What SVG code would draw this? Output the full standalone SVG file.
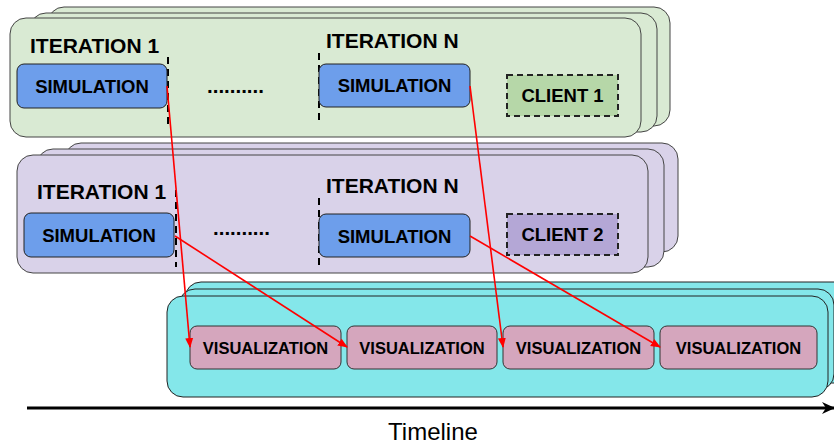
<svg xmlns="http://www.w3.org/2000/svg" width="834" height="444" viewBox="0 0 834 444">
<style>
text{font-family:"Liberation Sans",Arial,sans-serif;font-weight:bold;fill:#000}
.g{fill:#d9ead3;stroke:#444;stroke-width:1}
.p{fill:#d9d2e9;stroke:#444;stroke-width:1}
.c{fill:#84e7ea;stroke:#222;stroke-width:1}
.sim{fill:#6d9eeb;stroke:#222;stroke-width:1}
.viz{fill:#d5a6bd;stroke:#333;stroke-width:1}
.cl{stroke:#222;stroke-width:2;stroke-dasharray:6,4}
.dv{stroke:#000;stroke-width:2;stroke-dasharray:7,5;fill:none}
.it{font-size:21px}
.st{font-size:18.5px;text-anchor:middle}
.vt{font-size:16.5px;text-anchor:middle}
.dots{font-size:20.5px}
.red{stroke:#ff0000;stroke-width:1.6;fill:none;marker-end:url(#ah)}
</style>
<defs>
<marker id="ah" markerWidth="10" markerHeight="10" refX="9" refY="5" orient="auto" markerUnits="userSpaceOnUse">
<path d="M0,1 L10,5 L0,9 Z" fill="#ff0000"/>
</marker>
<marker id="tah" markerWidth="14" markerHeight="14" refX="12" refY="7" orient="auto" markerUnits="userSpaceOnUse">
<path d="M0,1 L13,7 L0,13 L4,7 Z" fill="#000"/>
</marker>
</defs>

<g id="client1-stack">
<rect class="g" x="48" y="7" width="622" height="119" rx="16"/>
<rect class="g" x="30" y="13" width="627" height="119" rx="16"/>
<rect class="g" x="10" y="18" width="631" height="119" rx="16"/>
<text class="it" x="30" y="53">ITERATION 1</text>
<text class="it" x="326" y="48">ITERATION N</text>
<text class="dots" x="207" y="93">..........</text>
<line class="dv" x1="168" y1="57" x2="168" y2="128"/>
<line class="dv" x1="319" y1="53" x2="319" y2="123"/>
</g>
<g id="sim1a"><rect class="sim" x="17" y="64" width="150" height="44" rx="7"/><text class="st" x="92" y="93">SIMULATION</text></g>
<g id="sim1n"><rect class="sim" x="319" y="64" width="151" height="43" rx="7"/><text class="st" x="394.5" y="92">SIMULATION</text></g>
<g id="client1"><rect class="cl" x="507" y="75" width="111" height="41" fill="#b6d7a8"/><text class="st" x="562.5" y="102">CLIENT 1</text></g>

<g id="client2-stack">
<rect class="p" x="65" y="143" width="613" height="109" rx="16"/>
<rect class="p" x="37" y="149" width="627" height="118" rx="16"/>
<rect class="p" x="17" y="155" width="631" height="118" rx="16"/>
<text class="it" x="37" y="199">ITERATION 1</text>
<text class="it" x="326" y="193">ITERATION N</text>
<text class="dots" x="213" y="235">..........</text>
<line class="dv" x1="176" y1="190" x2="176" y2="267"/>
<line class="dv" x1="319" y1="198" x2="319" y2="267"/>
</g>
<g id="sim2a"><rect class="sim" x="24" y="213" width="150" height="44" rx="7"/><text class="st" x="99" y="242">SIMULATION</text></g>
<g id="sim2n"><rect class="sim" x="319" y="214" width="151" height="43" rx="7"/><text class="st" x="394.5" y="243">SIMULATION</text></g>
<g id="client2"><rect class="cl" x="507" y="214" width="111" height="41" fill="#b4a7d6"/><text class="st" x="562.5" y="241">CLIENT 2</text></g>

<g id="viz-stack">
<rect class="c" x="185" y="282" width="670" height="101" rx="16"/>
<rect class="c" x="179" y="289" width="655" height="101" rx="16"/>
<rect class="c" x="167" y="296" width="661" height="101" rx="16"/>
</g>
<g id="viz1"><rect class="viz" x="190" y="326" width="151" height="43" rx="7"/><text class="vt" x="265.5" y="354">VISUALIZATION</text></g>
<g id="viz2"><rect class="viz" x="347" y="326" width="150" height="43" rx="7"/><text class="vt" x="422" y="354">VISUALIZATION</text></g>
<g id="viz3"><rect class="viz" x="503" y="326" width="151" height="43" rx="7"/><text class="vt" x="578.5" y="354">VISUALIZATION</text></g>
<g id="viz4"><rect class="viz" x="660" y="326" width="157" height="43" rx="7"/><text class="vt" x="738.5" y="354">VISUALIZATION</text></g>

<g id="connectors">
<line class="red" x1="167" y1="86" x2="190" y2="347"/>
<line class="red" x1="175" y1="236" x2="347" y2="347"/>
<line class="red" x1="470" y1="86" x2="503" y2="347"/>
<line class="red" x1="470" y1="236" x2="660" y2="347"/>
</g>

<g id="timeline">
<line x1="27" y1="408" x2="834" y2="408" stroke="#000" stroke-width="3" marker-end="url(#tah)"/>
<text x="433" y="440" font-size="24" text-anchor="middle" style="font-weight:normal">Timeline</text>
</g>
</svg>
